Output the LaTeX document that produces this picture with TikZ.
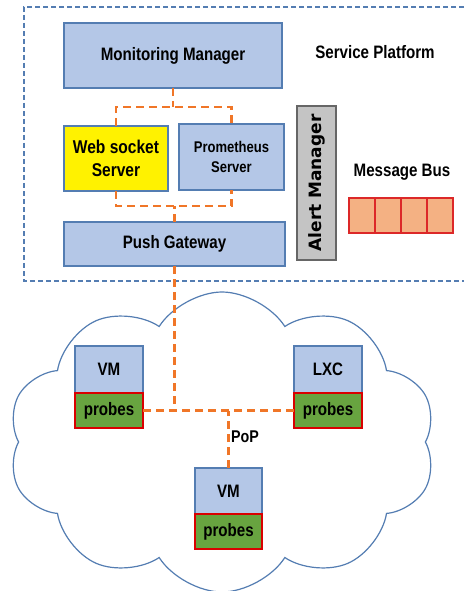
\documentclass[tikz,border=0pt]{standalone}
\usepackage{fontspec}
\setmainfont{Liberation Sans}
\newfontfamily\narrowfont{Liberation Sans}[FakeStretch=0.84]
\newfontfamily\widefont{DejaVu Sans}
\usetikzlibrary{shapes.symbols}

\definecolor{boxblue}{RGB}{180,199,231}
\definecolor{edgeblue}{RGB}{84,125,178}
\definecolor{linkorange}{RGB}{240,118,40}
\definecolor{probegreen}{RGB}{104,164,64}
\definecolor{busfill}{RGB}{244,177,131}
\definecolor{busred}{RGB}{220,40,40}
\definecolor{alertgray}{RGB}{196,196,196}

\begin{document}
\begin{tikzpicture}
  [x=1pt, y=-1pt,
   every node/.style={inner sep=0pt, outer sep=0pt, align=center,
                      font=\narrowfont\bfseries\fontsize{18}{20}\selectfont},
   compbox/.style={draw=edgeblue, line width=1.2pt, fill=boxblue},
   probebox/.style={draw=red!85!black, line width=1.2pt, fill=probegreen},
   buscell/.style={draw=busred, line width=1.3pt, fill=busfill,
                   minimum width=26pt, minimum height=35pt},
   link/.style={draw=linkorange, line width=2.4pt, dash pattern=on 8pt off 5pt},
   frame/.style={draw=edgeblue, line width=1.2pt, dash pattern=on 5pt off 3pt}]
  \useasboundingbox (0,0) rectangle (464,591);

  % the cloud of the PoP
  \node[cloud, cloud puffs=10, cloud puff arc=115, aspect=1.4,
        draw=edgeblue, line width=1.2pt, fill=white,
        minimum width=428pt, minimum height=300pt] (pop) at (222,442) {};

  % service platform
  \draw[frame] (464,7) -- (24,7) -- (24,281) -- (464,281);
  \node (sp) at (375,52) {Service Platform};

  \node[compbox, minimum width=218pt, minimum height=65pt] (mm) at (173,55.5) {Monitoring Manager};
  \node[compbox, fill=yellow, minimum width=104pt, minimum height=65pt,
        font=\narrowfont\bfseries\fontsize{18.5}{23}\selectfont] (ws) at (116,158.5) {Web socket\\Server};
  \node[compbox, minimum width=105pt, minimum height=66pt,
        font=\narrowfont\bfseries\fontsize{15.5}{20}\selectfont] (ps) at (231.5,157) {Prometheus\\Server};
  \node[compbox, minimum width=221pt, minimum height=44pt] (pg) at (174.5,244) {Push Gateway};
  \node[draw=gray!80!black, line width=1.2pt, fill=alertgray, rotate=90,
        minimum width=154pt, minimum height=39pt,
        font=\widefont\bfseries\fontsize{17}{19}\selectfont] (am) at (316.5,183) {Alert Manager};

  \node (mbl) at (402,172) {Message Bus};
  \foreach \i in {0,...,3}
    \node[buscell] (bus\i) at (362+26*\i,215.5) {};

  % hosts in the PoP
  \node[compbox, minimum width=68pt, minimum height=47pt] (vma) at (109,369.5) {VM};
  \node[probebox, minimum width=68pt, minimum height=35pt, anchor=north] (pra) at (vma.south) {probes};
  \node[compbox, minimum width=68pt, minimum height=47pt] (lxc) at (328,369.5) {LXC};
  \node[probebox, minimum width=68pt, minimum height=35pt, anchor=north] (prb) at (lxc.south) {probes};
  \node[compbox, minimum width=67pt, minimum height=46pt] (vmb) at (228.5,491) {VM};
  \node[probebox, minimum width=67pt, minimum height=35pt, anchor=north] (prc) at (vmb.south) {probes};

  % links
  \draw[link] (mm.south) -- ++(0,19) coordinate (mmfork);
  \draw[link] (ws.north) |- (mmfork) -| (ps.north);
  \draw[link] (pg.north) -- ++(0,-16) coordinate (pgfork);
  \draw[link] (ws.south) |- (pgfork) -| (ps.south);
  \draw[link] (pra.east) -- (prb.west);
  \draw[link] (pg.south) -- (pg.south |- pra.east);
  \draw[link] (vmb.north) -- (vmb.north |- pra.east);
  \node[anchor=west, font=\narrowfont\bfseries\fontsize{17}{19}\selectfont] (popl) at (231,437) {PoP};
\end{tikzpicture}
\end{document}
